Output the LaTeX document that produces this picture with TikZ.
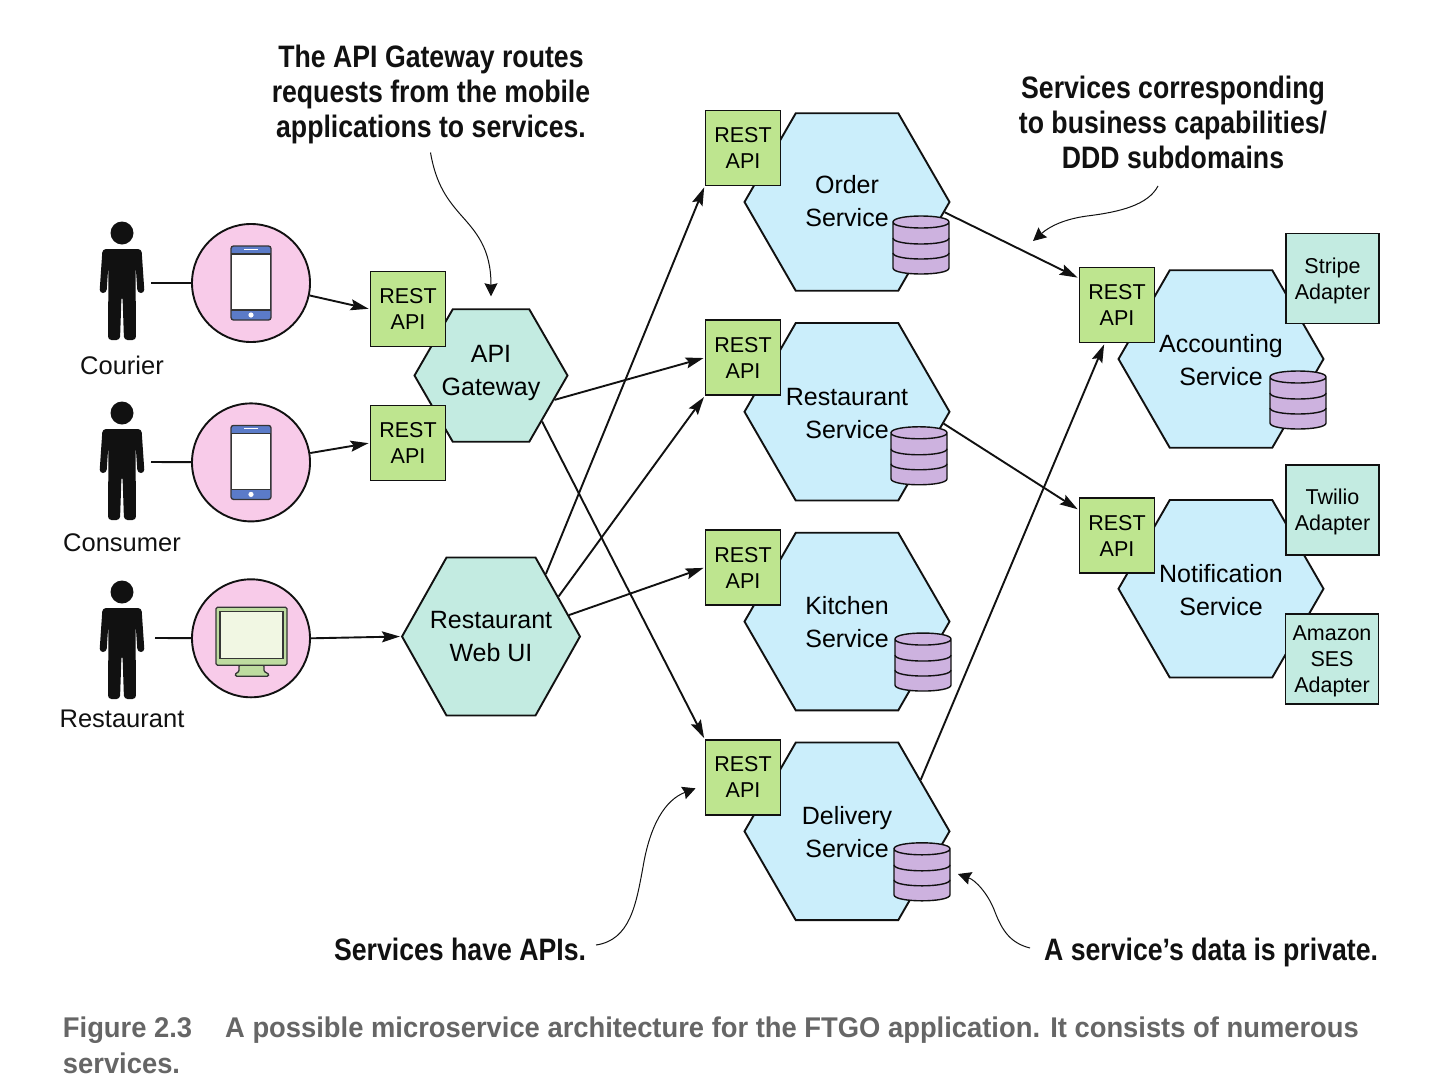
\documentclass[tikz,border=0pt]{standalone}
\usepackage{fontspec}
\usepackage{xcolor}
\usetikzlibrary{positioning, arrows.meta, shapes.geometric}
\setmainfont{Liberation Sans}
\newfontfamily\notefont[FakeStretch=0.86]{Liberation Sans}
\newfontfamily\capfont[FakeStretch=0.96]{Liberation Sans}
\definecolor{servicecol}{HTML}{CBEEFB}
\definecolor{gatewaycol}{HTML}{C3EBE1}
\definecolor{restcol}{HTML}{BEE58F}
\definecolor{appcol}{HTML}{F8CBE9}
\definecolor{dbcol}{HTML}{CDB2DF}
\definecolor{phonecol}{HTML}{5B7BC8}
\definecolor{framecol}{HTML}{BEDCA0}
\definecolor{screencol}{HTML}{F1F7E3}
\definecolor{inkcol}{HTML}{111111}
\definecolor{capcol}{HTML}{666666}

\begin{document}
\begin{tikzpicture}[x=1pt, y=-1pt, >={Stealth[length=18pt,width=11pt,inset=3pt]},
      line width=1.9pt, draw=inkcol, font=\fontsize{25}{33}\selectfont,
      service/.style={draw, regular polygon, regular polygon sides=6, fill=servicecol, minimum size=205pt, inner sep=0pt, align=center, text height=53pt},
      gateway/.style={draw, regular polygon, regular polygon sides=6, fill=gatewaycol, inner sep=0pt},
      hextext/.style={align=center, inner sep=0pt},
      appdisc/.style={draw, circle, fill=appcol, minimum size=118pt, inner sep=0pt},
      restapi/.style={draw, fill=restcol, minimum size=75pt, inner sep=0pt, align=center, text height=41pt, font=\fontsize{21.5}{26}\selectfont},
      adapter/.style={draw, fill=gatewaycol, minimum width=93pt, minimum height=90pt, inner sep=0pt, align=center, text depth=0pt, font=\fontsize{21.5}{26}\selectfont},
      actorname/.style={anchor=base, text=inkcol, font=\fontsize{25.5}{33}\selectfont},
      note/.style={align=center, inner sep=0pt, font=\notefont\bfseries\fontsize{31}{35}\selectfont, text=inkcol},
      notecurve/.style={line width=1pt, -{Stealth[length=13pt,width=13pt,inset=1.5pt]}},
      flow/.style={->, shorten >=1pt},
      dbstack/.pic={
        \draw[fill=dbcol, line width=1.4pt] (-28,-23) -- (-28,23) .. controls (-28,31) and (28,31) .. (28,23) -- (28,-23) .. controls (28,-31) and (-28,-31) .. (-28,-23) .. controls (-28,-15) and (28,-15) .. (28,-23);
        \draw[line width=1.4pt] (-28,-7) .. controls (-28,1) and (28,1) .. (28,-7);
        \draw[line width=1.4pt] (-28,8) .. controls (-28,16) and (28,16) .. (28,8);
      },
      person/.pic={
        \fill[inkcol] (0,0) circle (11.5);
        \fill[inkcol, rounded corners=3.5pt] (0,16) -- (19.5,16) -- (22.5,60) -- (15.5,60) -- (13.5,30) -- (14,107) -- (2,107) -- (0.5,63) -- (-0.5,63) -- (-2,107) -- (-14,107) -- (-13.5,30) -- (-15.5,60) -- (-22.5,60) -- (-19.5,16) -- cycle;
      },
      phone/.pic={
        \draw[fill=phonecol, draw=inkcol!85, line width=1.3pt, rounded corners=2.5pt] (-20,-37) rectangle (20,37);
        \draw[fill=white, draw=inkcol!85, line width=1.3pt] (-19.5,-29) rectangle (19.5,27);
        \fill[white] (-7,-34.5) rectangle (7,-33.2);
        \fill[white] (0,32) circle (2.6);
      },
      monitor/.pic={
        \draw[fill=framecol, draw=inkcol!85, line width=1.3pt, rounded corners=1pt] (-12,27) -- (-12,33) -- (-16,36) -- (-15,38) -- (17,38) -- (18,36) -- (13,33) -- (13,27) -- cycle;
        \draw[fill=framecol, draw=inkcol!85, line width=1.3pt, rounded corners=1.5pt] (-35,-31) rectangle (36,27);
        \draw[fill=screencol, draw=inkcol!85, line width=1.3pt] (-31,-27) rectangle (32,20);
      }]
    \useasboundingbox (0,0) rectangle (1445,1087);

    % actors and their front ends
    \pic at (122,233) {person};
    \pic at (122,413) {person};
    \pic at (122,592) {person};
    \node[actorname] (couriername) at (122,374) {Courier};
    \node[actorname] (consumername) at (122,551) {Consumer};
    \node[actorname] (restaurantname) at (122,727) {Restaurant};
    \coordinate (courierhand) at (151,283);
    \coordinate (consumerhand) at (151,462);
    \coordinate (restauranthand) at (155,638);

    \node[appdisc] (courierapp) at (251,283) {};
    \node[appdisc, below=59.5pt of courierapp] (consumerapp) {};
    \node[appdisc, below=56pt of consumerapp] (restaurantapp) {};
    \pic at (courierapp) {phone};
    \pic at (consumerapp) {phone};
    \pic at (restaurantapp) {monitor};

    % edge of the application
    \node[gateway, minimum size=153pt] (apigw) at (491,375.5) {};
    \node[hextext] (apigwtext) at ([yshift=3pt]apigw) {API\\Gateway};
    \node[gateway, minimum size=182.5pt, xscale=0.975, transform shape] (webui) at (491,636.5) {};
    \node[hextext] (webuitext) at (webui) {Restaurant\\Web UI};
    \node[restapi] (courierapi) at ([shift={(-83,-66.5)}]apigw) {REST\\API};
    \node[restapi] (consumerapi) at ([shift={(-83,67.5)}]apigw) {REST\\API};

    % services
    \node[service, text height=50pt] (order) at (847,202) {Order\\Service};
    \node[service, below=30.3pt of order] (restaurant) {Restaurant\\Service};
    \node[service, below=30.3pt of restaurant] (kitchen) {Kitchen\\Service};
    \node[service, below=30.3pt of kitchen] (delivery) {Delivery\\Service};
    \node[service] (accounting) at (1221,359) {Accounting\\Service};
    \node[service, below=50.3pt of accounting] (notification) {Notification\\Service};

    \node[restapi] (orderapi) at ([shift={(-104,-54)}]order) {REST\\API};
    \node[restapi] (restaurantapi) at ([shift={(-104,-54)}]restaurant) {REST\\API};
    \node[restapi] (kitchenapi) at ([shift={(-104,-54)}]kitchen) {REST\\API};
    \node[restapi] (deliveryapi) at ([shift={(-104,-54)}]delivery) {REST\\API};
    \node[restapi] (accountingapi) at ([shift={(-104,-54)}]accounting) {REST\\API};
    \node[restapi] (notificationapi) at ([shift={(-104,-53)}]notification) {REST\\API};

    \pic at ([shift={(74,43)}]order) {dbstack};
    \pic at ([shift={(72,44)}]restaurant) {dbstack};
    \pic at ([shift={(76,40.5)}]kitchen) {dbstack};
    \pic at ([shift={(75,40.5)}]delivery) {dbstack};
    \pic at ([shift={(77,41)}]accounting) {dbstack};

    \node[adapter] (stripe) at ([shift={(111.5,-80.5)}]accounting) {Stripe\\Adapter};
    \node[adapter] (twilio) at ([shift={(111.5,-79)}]notification) {Twilio\\Adapter};
    \node[adapter] (ses) at ([shift={(111,70)}]notification) {Amazon\\SES\\Adapter};

    % connectors
    \draw (courierhand) -- (courierapp);
    \draw (consumerhand) -- (consumerapp);
    \draw (restauranthand) -- (restaurantapp);
    \draw[flow] (courierapp.-12) -- (courierapi.west);
    \draw[flow] (consumerapp.9) -- (consumerapi.west);
    \draw[flow] (restaurantapp.east) -- (webui.west);
    \draw[flow] (apigw.-21) -- (restaurantapi.west);
    \draw[flow] (apigw.-42) -- (deliveryapi.north west);
    \draw[flow] (webui.48) -- (orderapi.south west);
    \draw[flow] (webui.30) -- (restaurantapi.south west);
    \draw[flow] (webui.15) -- (kitchenapi.west);
    \draw[flow] (order.-6) -- (accountingapi.145);
    \draw[flow] (restaurant.-7) -- (notificationapi.146);
    \draw[flow] (delivery.35) -- (accountingapi.252);

    % notes
    \node[note] (gwnote) at (431,94.5) {The API Gateway routes\\requests from the mobile\\applications to services.};
    \node[note] (subnote) at (1173,122.5) {Services corresponding\\to business capabilities/\\DDD subdomains};
    \node[note, anchor=base east] (apinote) at (587,960) {Services have APIs.};
    \node[note, anchor=base east] (datanote) at (1379,960) {A service’s data is private.};
    \coordinate (gwfrom) at (430.5,152.5);
    \coordinate (subfrom) at (1158,186);
    \coordinate (apifrom) at (596,945);
    \coordinate (datafrom) at (1030,948);
    \coordinate (subto) at (1033,241);
    \coordinate (datato) at (958,874);
    \draw[notecurve] (gwfrom) .. controls (436,185) and (448,200) .. (460,214) .. controls (476,232) and (491,248) .. ([yshift=12pt]apigw.north);
    \draw[notecurve] (subfrom) .. controls (1148,205) and (1120,212) .. (1087,216) .. controls (1065,219) and (1050,226) .. (subto);
    \draw[notecurve] (apifrom) .. controls (630,940) and (636,905) .. (643,867) .. controls (650,825) and (665,800) .. ([shift={(-9,11)}]deliveryapi.west);
    \draw[notecurve] (datafrom) .. controls (1010,943) and (1002,930) .. (995,912) .. controls (988,893) and (975,880) .. (datato);

    % caption
    \node[anchor=base west, inner sep=0pt, align=left, text=capcol, font=\capfont\bfseries\fontsize{28.5}{36}\selectfont] (caption) at (62,1073) {Figure 2.3\hspace{33pt}A possible microservice architecture for the FTGO application. It consists of numerous\\services.};
  \end{tikzpicture}
\end{document}
